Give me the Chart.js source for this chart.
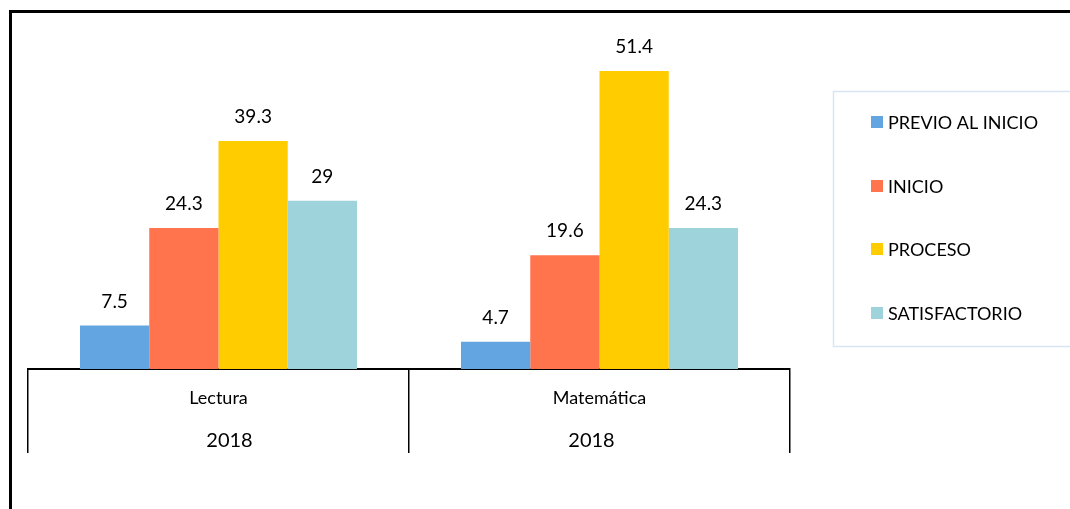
<!DOCTYPE html>
<html>
<head>
<meta charset="utf-8">
<script src="https://cdn.jsdelivr.net/npm/chart.js@4.4.1/dist/chart.umd.min.js"></script>
<style>
html,body{margin:0;padding:0;background:#fff;}
#wrap{position:relative;width:1070px;height:509px;}
</style>
</head>
<body>
<div id="wrap"><canvas id="c" width="1070" height="509"></canvas></div>
<script>
const categories = ['Lectura', 'Matemática'];
const years = ['2018', '2018'];
const seriesNames = ['PREVIO AL INICIO', 'INICIO', 'PROCESO', 'SATISFACTORIO'];
const previo = [7.5, 4.7];
const inicio = [24.3, 19.6];
const proceso = [39.3, 51.4];
const satisfactorio = [29, 24.3];
const colors = ['#63A5E0', '#FF734D', '#FFCC00', '#9ED3DC'];
const FONT = 'Lato, "Liberation Sans", sans-serif';

const seriesValues = [previo, inicio, proceso, satisfactorio];

const customPlugin = {
  id: 'custom',
  beforeDraw(chart) {
    const ctx = chart.ctx;
    ctx.save();
    ctx.fillStyle = '#fff';
    ctx.fillRect(0, 0, chart.width, chart.height);
    ctx.strokeStyle = '#000';
    ctx.lineWidth = 3;
    ctx.beginPath();
    ctx.moveTo(1070, 11.5);
    ctx.lineTo(10.5, 11.5);
    ctx.lineTo(10.5, 509);
    ctx.stroke();
    ctx.restore();
  },
  afterDraw(chart) {
    const ctx = chart.ctx;
    ctx.save();
    // data labels
    ctx.fillStyle = '#000';
    ctx.font = '19px ' + FONT;
    ctx.textAlign = 'center';
    ctx.textBaseline = 'middle';
    chart.data.datasets.forEach((ds, i) => {
      const meta = chart.getDatasetMeta(i);
      meta.data.forEach((bar, j) => {
        ctx.fillText(String(ds.data[j]), bar.x, bar.y - 24);
      });
    });
    // category labels (outer level slightly offset as in the original)
    const xs = chart.scales.x;
    const yearShift = [11, -8];
    categories.forEach((c, i) => {
      const x = xs.getPixelForValue(i);
      ctx.font = '18px ' + FONT;
      ctx.fillText(c, x, 398);
      ctx.font = '20px ' + FONT;
      ctx.fillText(years[i], x + yearShift[i], 441);
    });
    // legend
    ctx.strokeStyle = '#DAE5F3';
    ctx.lineWidth = 1.5;
    ctx.strokeRect(833.5, 91.5, 300, 255);
    ctx.font = '18px ' + FONT;
    ctx.textAlign = 'left';
    const rows = [122, 186, 249, 313];
    chart.data.datasets.forEach((ds, i) => {
      ctx.fillStyle = ds.backgroundColor;
      ctx.fillRect(871, rows[i] - 6, 12, 12);
      ctx.fillStyle = '#000';
      ctx.fillText(ds.label, 888, rows[i] + 1);
    });
    ctx.restore();
  }
};

new Chart(document.getElementById('c'), {
  type: 'bar',
  data: {
    labels: categories,
    datasets: seriesNames.map((n, i) => ({
      label: n,
      data: seriesValues[i],
      backgroundColor: colors[i],
      borderWidth: 0,
      categoryPercentage: 0.727,
      barPercentage: 1
    }))
  },
  options: {
    responsive: false,
    animation: false,
    layout: { padding: { left: 28, right: 280, top: 21, bottom: 56 } },
    plugins: { legend: { display: false }, tooltip: { enabled: false } },
    scales: {
      x: {
        offset: true,
        grid: { offset: true, drawOnChartArea: false, drawTicks: true, tickLength: 84, color: '#000', lineWidth: 1.5 },
        border: { display: true, color: '#000', width: 2 },
        ticks: { display: false }
      },
      y: {
        display: false,
        min: 0,
        max: 60
      }
    }
  },
  plugins: [customPlugin]
});
</script>
</body>
</html>
